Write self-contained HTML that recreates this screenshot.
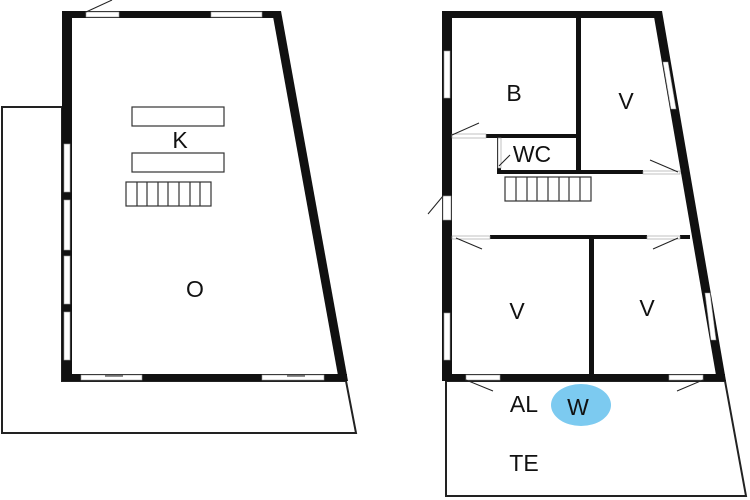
<!DOCTYPE html>
<html><head><style>body{margin:0;background:#fff}svg{display:block}</style></head><body>
<svg width="750" height="500" viewBox="0 0 750 500" xmlns="http://www.w3.org/2000/svg" font-family="Liberation Sans, sans-serif" font-size="23" fill="#111">
<rect width="750" height="500" fill="#fff"/>
<!-- left terrace -->
<polygon points="2,107 62,107 62,381 346,381 356,433 2,433" fill="#fff" stroke="#222" stroke-width="2"/>
<!-- left building -->
<polygon points="67,14 277,14 343,378 67,378" fill="#fff"/>
<g fill="#111">
<rect x="62" y="11" width="10" height="370"/>
<rect x="62" y="11" width="218" height="7"/>
<polygon points="272,11 281,11 348,381 339,381"/>
<rect x="62" y="374" width="285" height="7"/>
</g>
<g fill="#fff" stroke="#999" stroke-width="0.6">
<rect x="86" y="12" width="33" height="5"/><rect x="211" y="12" width="51" height="5"/>
<rect x="64" y="144" width="6" height="48"/><rect x="64" y="200" width="6" height="50"/>
<rect x="64" y="256" width="6" height="48"/><rect x="64" y="312" width="6" height="48"/>
<rect x="81" y="375" width="61" height="5"/><rect x="262" y="375" width="62" height="5"/>
</g>
<line x1="86" y1="12" x2="112" y2="0" stroke="#222" stroke-width="1"/>
<line x1="105" y1="376" x2="123" y2="376" stroke="#222" stroke-width="1"/>
<line x1="287" y1="376" x2="305" y2="376" stroke="#222" stroke-width="1"/>
<g fill="none" stroke="#333" stroke-width="1.2">
<rect x="132" y="107" width="92" height="19"/><rect x="132" y="153" width="92" height="19"/>
<rect x="126" y="182" width="85" height="24"/>
<path d="M137 182v24M147 182v24M158 182v24M168 182v24M179 182v24M190 182v24M200 182v24"/>
</g>
<text x="180" y="148" text-anchor="middle">K</text>
<text x="195" y="297" text-anchor="middle">O</text>
<!-- right terrace -->
<polygon points="446,381 725,381 746,496 446,496" fill="#fff" stroke="#222" stroke-width="2"/>
<!-- right building -->
<g fill="#111">
<rect x="442" y="11" width="10" height="370"/>
<rect x="442" y="11" width="219" height="7"/>
<polygon points="653,11 662,11 726,381 717,381"/>
<rect x="442" y="374" width="283" height="7"/>
<rect x="576" y="14" width="5" height="160"/>
<rect x="486" y="134" width="92" height="4"/>
<rect x="497" y="134" width="4" height="40"/>
<rect x="497" y="170" width="146" height="4"/>
<rect x="490" y="235" width="157" height="4"/>
<rect x="680" y="235" width="10" height="4"/>
<rect x="589" y="237" width="5" height="140"/>
</g>
<g fill="#fff" stroke="#999" stroke-width="0.6">
<rect x="444" y="51" width="6" height="47"/><rect x="443" y="196" width="8" height="24"/>
<rect x="444" y="313" width="6" height="47"/>
<polygon points="663,62 668,62 676,109 671,109"/>
<polygon points="705,293 710,293 716,340 711,340"/>
<rect x="452" y="134" width="34" height="4"/><rect x="498" y="138" width="3" height="30"/>
<rect x="643" y="171" width="37" height="3"/>
<rect x="452" y="236" width="38" height="3"/><rect x="647" y="236" width="33" height="3"/>
<rect x="466" y="375" width="34" height="5"/><rect x="669" y="375" width="34" height="5"/>
</g>
<g stroke="#222" stroke-width="1">
<line x1="452" y1="135" x2="479" y2="123"/><line x1="499" y1="166" x2="510" y2="155"/>
<line x1="650" y1="160" x2="678" y2="172"/><line x1="443" y1="196" x2="428" y2="214"/>
<line x1="456" y1="238" x2="482" y2="249"/><line x1="678" y1="238" x2="653" y2="249"/>
<line x1="466" y1="380" x2="493" y2="391"/><line x1="703" y1="380" x2="677" y2="391"/>
</g>
<g fill="none" stroke="#333" stroke-width="1.2">
<rect x="505" y="177" width="86" height="24"/>
<path d="M516 177v24M527 177v24M537 177v24M548 177v24M559 177v24M569 177v24M580 177v24"/>
</g>
<text x="514" y="101" text-anchor="middle">B</text>
<text x="626" y="109" text-anchor="middle">V</text>
<text x="532" y="162" text-anchor="middle">WC</text>
<text x="517" y="319" text-anchor="middle">V</text>
<text x="647" y="316" text-anchor="middle">V</text>
<text x="524" y="412" text-anchor="middle">AL</text>
<ellipse cx="581" cy="405" rx="30" ry="21" fill="#7ccaf0"/>
<text x="578" y="415" text-anchor="middle">W</text>
<text x="524" y="471" text-anchor="middle">TE</text>
</svg>
</body></html>
